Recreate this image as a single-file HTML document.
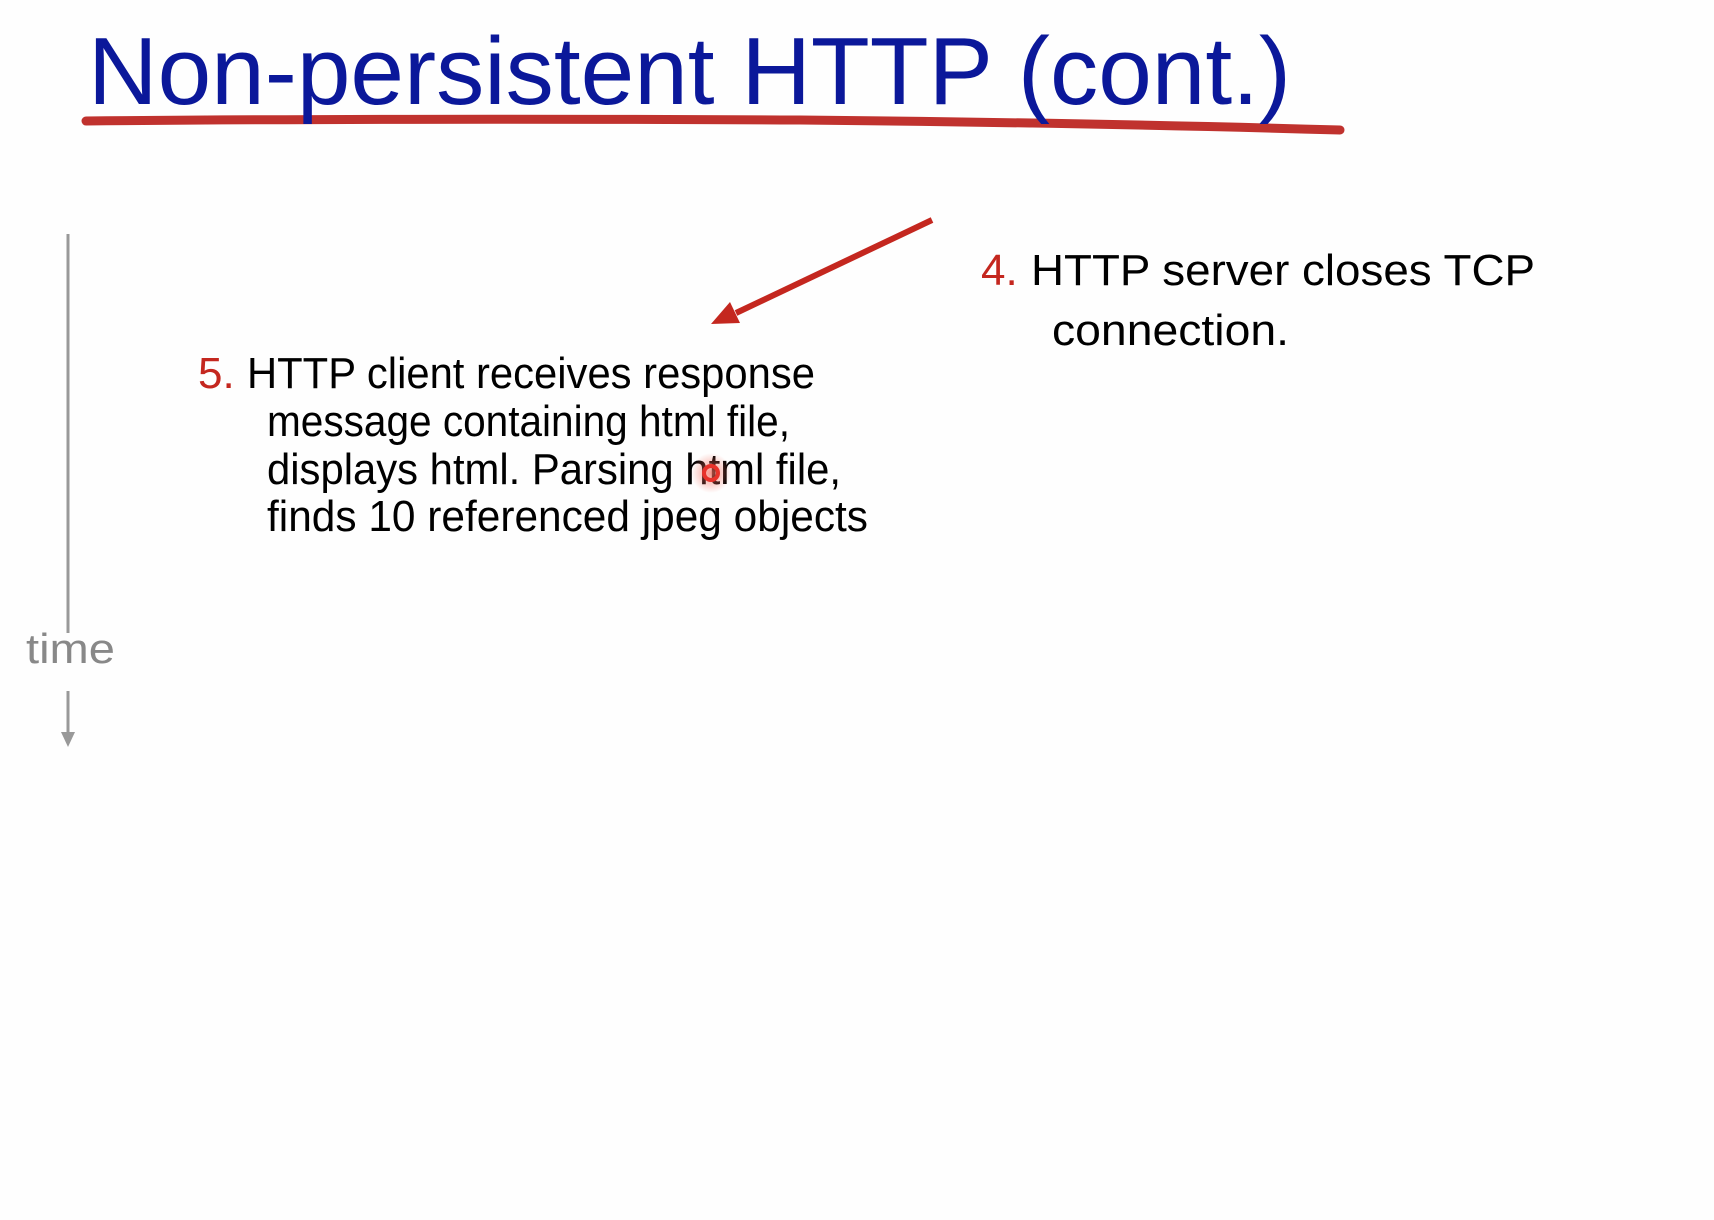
<!DOCTYPE html>
<html><head><meta charset="utf-8"><style>
html,body{margin:0;padding:0;background:#fefefe;}
svg{display:block;}
text{font-family:"Liberation Sans",sans-serif;}
</style></head><body>
<svg width="1714" height="1220" viewBox="0 0 1714 1220" xmlns="http://www.w3.org/2000/svg">
<defs>
<radialGradient id="glow"><stop offset="0" stop-color="#f26a5a" stop-opacity="0.7"/><stop offset="1" stop-color="#f26a5a" stop-opacity="0"/></radialGradient>
</defs>
<!-- title -->
<path d="M86 121 Q400 118 800 120 Q1100 123 1340 130" stroke="#c0322e" stroke-width="9" fill="none" stroke-linecap="round"/>
<text x="88" y="104" font-size="96" fill="#0b189a" textLength="1203" lengthAdjust="spacingAndGlyphs">Non-persistent HTTP (cont.)</text>
<!-- time axis -->
<line x1="68" y1="234" x2="68" y2="633" stroke="#999" stroke-width="3"/>
<text x="26" y="663" font-size="42" fill="#888" textLength="89" lengthAdjust="spacingAndGlyphs">time</text>
<line x1="68" y1="691" x2="68" y2="734" stroke="#999" stroke-width="3"/>
<polygon points="61,732 75,732 68,747" fill="#999"/>
<!-- red arrow -->
<line x1="932" y1="220" x2="736" y2="313" stroke="#c4271f" stroke-width="6"/>
<polygon points="711,324 730,302 740,323" fill="#c4271f"/>
<!-- 4 -->
<text x="981" y="285" font-size="44" fill="#c4271f">4.</text>
<text x="1031" y="285" font-size="44" fill="#000" textLength="504" lengthAdjust="spacingAndGlyphs">HTTP server closes TCP</text>
<text x="1052" y="345" font-size="44" fill="#000" textLength="237" lengthAdjust="spacingAndGlyphs">connection.</text>
<!-- 5 -->
<text x="198" y="388" font-size="44" fill="#c4271f">5.</text>
<text x="247" y="388" font-size="44" fill="#000" textLength="568" lengthAdjust="spacingAndGlyphs">HTTP client receives response</text>
<text x="267" y="436" font-size="44" fill="#000" textLength="523" lengthAdjust="spacingAndGlyphs">message containing html file,</text>
<text x="267" y="484" font-size="44" fill="#000" textLength="574" lengthAdjust="spacingAndGlyphs">displays html.  Parsing html file,</text>
<text x="267" y="531" font-size="44" fill="#000" textLength="601" lengthAdjust="spacingAndGlyphs">finds 10 referenced jpeg  objects</text>
<!-- pointer -->
<circle cx="711" cy="473" r="20" fill="url(#glow)"/>
<circle cx="711" cy="473" r="7" fill="none" stroke="#e8322a" stroke-width="4"/>
</svg>
</body></html>
